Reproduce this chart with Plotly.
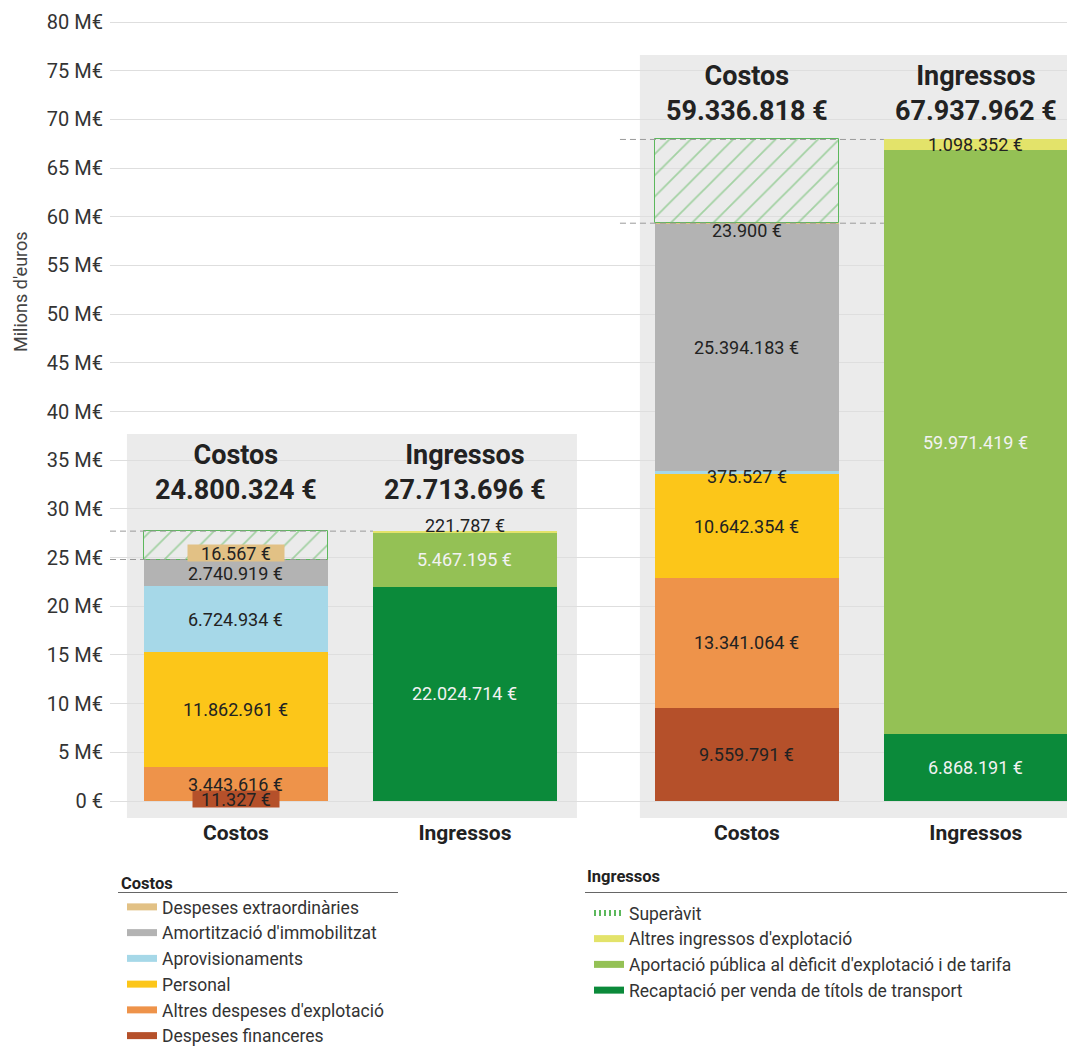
import plotly.graph_objects as go

# ---------------- DATA ----------------
cost_categories = [
    "Despeses financeres",
    "Altres despeses d'explotació",
    "Personal",
    "Aprovisionaments",
    "Amortització d'immobilitzat",
    "Despeses extraordinàries",
]
costs_g1 = [11327, 3443616, 11862961, 6724934, 2740919, 16567]
costs_g2 = [9559791, 13341064, 10642354, 375527, 25394183, 23900]

income_categories = [
    "Recaptació per venda de títols de transport",
    "Aportació pública al dèficit d'explotació i de tarifa",
    "Altres ingressos d'explotació",
]
income_g1 = [22024714, 5467195, 221787]
income_g2 = [6868191, 59971419, 1098352]

cost_totals = [24800324, 59336818]
income_totals = [27713696, 67937962]

surplus_label = "Superàvit"
bar_labels = ["Costos", "Ingressos"]
legend_titles = ["Costos", "Ingressos"]
y_ticks = list(range(0, 81, 5))
y_ticktext = ["0 €"] + [f"{t} M€" for t in y_ticks[1:]]
y_title = "Milions d'euros"

# ---------------- STYLE / LAYOUT ----------------
FONT = "Roboto"
cost_colors = ["#b5502a", "#ee934a", "#fcc619", "#a6d8e8", "#b3b3b3", "#e2c185"]
cost_text_colors = ["#222", "#222", "#222", "#222", "#222", "#222"]
income_colors = ["#0b8a3a", "#94c155", "#e3e36a"]
income_text_colors = ["#f2f2f2", "#f2f2f2", "#222"]
surplus_color = "#5cb85c"
panel_color = "#ebebeb"

W, H = 1075, 1047
OFF = 8  # page body margin of the browser
ML, MR, MT, MB = 102, 0, 12, 237
PW, PH = W - ML - MR, H - MT - MB


def px_x(p):  # screen px -> paper
    return (p - OFF - ML) / PW


def px_y(p):
    return (H - MB - (p - OFF)) / PH


COST_X = [0.0, 2.231]
INC_X = [1.0, 3.231]
BAR_W = 0.803
X_RANGE = [-0.550, 3.699]
Y_RANGE = [-1.746e6, 80.205e6]
PANEL_X = [(-0.476, 1.489), (1.764, 3.8)]
PANEL_TOP = [37.7e6, 76.6e6]
DASH_X0 = [X_RANGE[0], 1.677]
DASH_LOW_X1 = [COST_X[0] + BAR_W / 2, INC_X[1] - BAR_W / 2]

# label vertical shifts (px) for tiny segments, and label boxes
cost_label_shift = {
    (0, 0): 1.5, (0, 5): 7,
    (1, 3): -3.5, (1, 5): -7,
}
cost_label_box = {(0, 0): (86, 16), (0, 5): (96, 16)}
income_label_shift = {(0, 2): 7, (1, 2): 0}


def fmt(v):
    return f"{v:,}".replace(",", ".") + " €"


fig = go.Figure()
annotations = []
shapes = []

# background panels
for g in range(2):
    shapes.append(dict(type="rect", xref="x", yref="y", layer="below",
                       x0=PANEL_X[g][0], x1=PANEL_X[g][1],
                       y0=Y_RANGE[0], y1=PANEL_TOP[g],
                       fillcolor=panel_color, line=dict(width=0)))

# cost stacks
costs = [costs_g1, costs_g2]
incomes = [income_g1, income_g2]
cost_bases = [[sum(c[:i]) for i in range(len(c))] for c in costs]
inc_bases = [[sum(c[:i]) for i in range(len(c))] for c in incomes]

for i, name in enumerate(cost_categories):
    fig.add_trace(go.Bar(
        x=COST_X, y=[costs[0][i], costs[1][i]],
        base=[cost_bases[0][i], cost_bases[1][i]],
        width=BAR_W, name=name, showlegend=False,
        marker=dict(color=cost_colors[i], line=dict(width=0)),
        hoverinfo="skip",
    ))
    for g in range(2):
        v = costs[g][i]
        ann = dict(x=COST_X[g], y=cost_bases[g][i] + v / 2, text=fmt(v),
                   showarrow=False, yshift=cost_label_shift.get((g, i), 0),
                   font=dict(family=FONT, size=18, color=cost_text_colors[i]))
        if (g, i) in cost_label_box:
            bw, bh = cost_label_box[(g, i)]
            ann.update(bgcolor=cost_colors[i], width=bw, height=bh, borderpad=0)
        annotations.append(ann)

for i, name in enumerate(income_categories):
    fig.add_trace(go.Bar(
        x=INC_X, y=[incomes[0][i], incomes[1][i]],
        base=[inc_bases[0][i], inc_bases[1][i]],
        width=BAR_W, name=name, showlegend=False,
        marker=dict(color=income_colors[i], line=dict(width=0)),
        hoverinfo="skip",
    ))
    for g in range(2):
        v = incomes[g][i]
        annotations.append(dict(
            x=INC_X[g], y=inc_bases[g][i] + v / 2, text=fmt(v),
            showarrow=False, yshift=income_label_shift.get((g, i), 0),
            font=dict(family=FONT, size=18, color=income_text_colors[i])))

# surplus (hatched)
cost_sums = [sum(c) for c in costs]
inc_sums = [sum(c) for c in incomes]
fig.add_trace(go.Bar(
    x=COST_X, y=[inc_sums[g] - cost_sums[g] for g in range(2)],
    base=cost_sums, width=BAR_W, name=surplus_label, showlegend=False,
    marker=dict(color="rgba(0,0,0,0)",
                line=dict(color=surplus_color, width=1),
                pattern=dict(shape="/", fgcolor=surplus_color,
                             bgcolor="rgba(0,0,0,0)", size=15, solidity=0.12)),
    hoverinfo="skip",
))

# dashed reference lines
for g in range(2):
    shapes.append(dict(type="line", xref="x", yref="y", layer="above",
                       x0=DASH_X0[g], x1=INC_X[g] - BAR_W / 2,
                       y0=inc_sums[g], y1=inc_sums[g],
                       line=dict(color="#9a9a9a", width=1, dash="6px,4px")))
    shapes.append(dict(type="line", xref="x", yref="y", layer="above",
                       x0=DASH_X0[g], x1=DASH_LOW_X1[g],
                       y0=cost_sums[g], y1=cost_sums[g],
                       line=dict(color="#9a9a9a", width=1, dash="6px,4px")))

# group headers
for g in range(2):
    for xx, lab, tot in [(COST_X[g], bar_labels[0], cost_totals[g]),
                         (INC_X[g], bar_labels[1], income_totals[g])]:
        annotations.append(dict(
            x=xx, y=PANEL_TOP[g], yanchor="top", yshift=-3, showarrow=False,
            text=f"<b>{lab}</b><br><b>{fmt(tot)}</b>",
            font=dict(family=FONT, size=27, color="#222")))

# legend entries (dummy traces)
for i in reversed(range(len(cost_categories))):
    fig.add_trace(go.Scatter(x=[None], y=[None], mode="lines",
                             name=cost_categories[i], legend="legend",
                             line=dict(color=cost_colors[i], width=7)))
fig.add_trace(go.Scatter(x=[None], y=[None], mode="lines", name=surplus_label,
                         legend="legend2",
                         line=dict(color=surplus_color, width=6, dash="2px,3px")))
for i in reversed(range(len(income_categories))):
    fig.add_trace(go.Scatter(x=[None], y=[None], mode="lines",
                             name=income_categories[i], legend="legend2",
                             line=dict(color=income_colors[i], width=7)))

# legend titles + underline
annotations.append(dict(xref="paper", yref="paper", x=px_x(119), y=px_y(883),
                        xanchor="left", yanchor="middle", showarrow=False,
                        text=f"<b>{legend_titles[0]}</b>",
                        font=dict(family=FONT, size=16.5, color="#222")))
annotations.append(dict(xref="paper", yref="paper", x=px_x(585), y=px_y(876),
                        xanchor="left", yanchor="middle", showarrow=False,
                        text=f"<b>{legend_titles[1]}</b>",
                        font=dict(family=FONT, size=16.5, color="#222")))
shapes.append(dict(type="line", xref="paper", yref="paper",
                   x0=px_x(118), x1=px_x(398), y0=px_y(892.5), y1=px_y(892.5),
                   line=dict(color="#666", width=1)))
shapes.append(dict(type="line", xref="paper", yref="paper",
                   x0=px_x(585), x1=px_x(1083), y0=px_y(892.5), y1=px_y(892.5),
                   line=dict(color="#666", width=1)))

# y-axis title
annotations.append(dict(xref="paper", yref="paper", x=px_x(20), y=px_y(292),
                        xanchor="center", yanchor="middle",
                        textangle=-90, showarrow=False, text=y_title,
                        font=dict(family=FONT, size=18, color="#444")))

legend_common = dict(bgcolor="rgba(0,0,0,0)", borderwidth=0, itemwidth=30,
                     traceorder="normal", xanchor="left", yanchor="top",
                     font=dict(family=FONT, size=17.5, color="#333"),
                     itemclick=False, itemdoubleclick=False)

fig.update_layout(
    width=W, height=H,
    margin=dict(l=ML, r=MR, t=MT, b=MB, pad=0, autoexpand=False),
    paper_bgcolor="white", plot_bgcolor="white",
    barmode="overlay", bargap=0,
    font=dict(family=FONT, color="#222"),
    showlegend=True,
    legend=dict(x=px_x(122), y=px_y(889), **legend_common),
    legend2=dict(x=px_x(589), y=px_y(895), **legend_common),
    xaxis=dict(range=X_RANGE, tickvals=COST_X + INC_X,
               ticktext=[f"<b>{bar_labels[0]}</b>"] * 2 + [f"<b>{bar_labels[1]}</b>"] * 2,
               tickfont=dict(family=FONT, size=21, color="#222"),
               showgrid=False, zeroline=False, showline=False, ticks="",
               fixedrange=True),
    yaxis=dict(range=Y_RANGE, tickvals=[t * 1e6 for t in y_ticks],
               ticktext=y_ticktext, ticklabelstandoff=6,
               tickfont=dict(family=FONT, size=20, color="#333"),
               showgrid=True, gridcolor="#dedede", gridwidth=1,
               zeroline=False, showline=False, ticks="", fixedrange=True),
    annotations=annotations,
    shapes=shapes,
)

fig.write_html("out.html")
